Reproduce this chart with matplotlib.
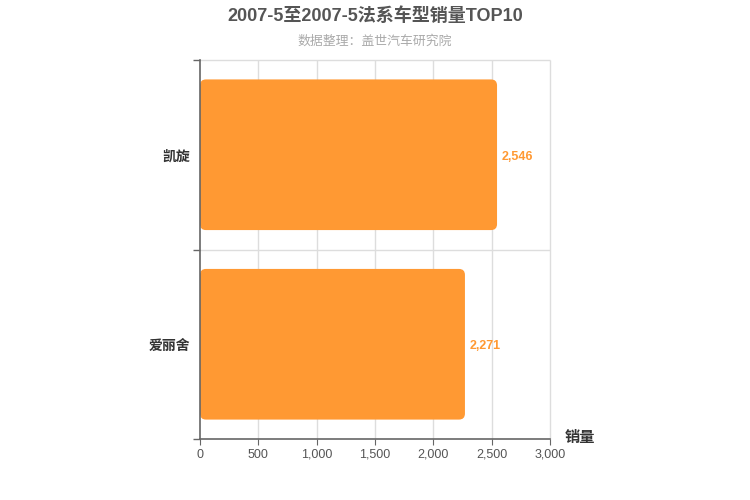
import matplotlib
matplotlib.use("Agg")
import matplotlib.pyplot as plt
from matplotlib.patches import FancyBboxPatch
from matplotlib.ticker import FuncFormatter, FixedLocator

plt.rcParams['font.family'] = ['Liberation Sans', 'Noto Sans CJK SC', 'DejaVu Sans']

categories = ['凯旋', '爱丽舍']
sales = [2546, 2271]
xticks = [0, 500, 1000, 1500, 2000, 2500, 3000]
title = '2007-5至2007-5法系车型销量TOP10'
subtitle = '数据整理：盖世汽车研究院'
bar_color = '#FF9933'

fig = plt.figure(figsize=(7.5, 5), dpi=100)
ax = fig.add_axes([200/750, 1-439/500, 350/750, 379/500])

ax.set_xlim(0, 3000)
ax.set_ylim(len(categories) - 0.5, -0.5)

boundaries = [i - 0.5 for i in range(len(categories) + 1)]

# grid lines (unclipped so edge lines fully show)
ax.vlines(xticks[1:], len(categories) - 0.5, -0.5, colors='#dddddd', linewidth=1,
          zorder=0, clip_on=False)
ax.hlines(boundaries[:-1], 0, 3000, colors='#dddddd', linewidth=1, zorder=0, clip_on=False)

# rounding in pixels -> data units
px_x = 3000 / 350.0
px_y = len(categories) / 379.0
radius_px = 6
bar_h = 0.795
for i, v in enumerate(sales):
    p = FancyBboxPatch((0, i - bar_h/2), v, bar_h,
                       boxstyle=f"round,pad=0,rounding_size={radius_px*px_x}",
                       mutation_aspect=px_y/px_x,
                       facecolor=bar_color, edgecolor='none', zorder=3)
    ax.add_patch(p)
    ax.text(v + 5*px_x, i + 0.01, f"{v:,}", va='center', ha='left', color=bar_color,
            fontsize=9, fontweight='bold', zorder=4)

ax.set_xticks(xticks)
ax.xaxis.set_major_formatter(FuncFormatter(lambda x, p: f"{int(x):,}"))
ax.set_yticks(range(len(categories)))
ax.set_yticklabels(categories)
ax.yaxis.set_minor_locator(FixedLocator(boundaries))
ax.tick_params(axis='y', which='major', length=0, pad=7, labelsize=10, labelcolor='#333333')
for t in ax.get_yticklabels():
    t.set_fontweight('bold')
ax.tick_params(axis='y', which='minor', length=5, color='#666666', width=1)
ax.tick_params(axis='x', length=4, color='#666666', labelsize=9, labelcolor='#555555', pad=3)

for s in ['top', 'right']:
    ax.spines[s].set_visible(False)
ax.spines['left'].set_color('#666666')
ax.spines['bottom'].set_color('#666666')
ax.spines['left'].set_linewidth(1.2)
ax.spines['bottom'].set_linewidth(1.2)
ax.spines['left'].set_zorder(5)
ax.spines['bottom'].set_zorder(5)

fig.text(580/750, 1-438/500, '销量', ha='center', va='center', fontsize=11,
         fontweight='bold', color='#333333')
fig.text(0.5, 1-16/500, title, ha='center', va='center', fontsize=13,
         fontweight='bold', color='#555555')
fig.text(0.5, 1-41/500, subtitle, ha='center', va='center', fontsize=9.3,
         color='#aaaaaa')

fig.savefig('out.png', dpi=100)
